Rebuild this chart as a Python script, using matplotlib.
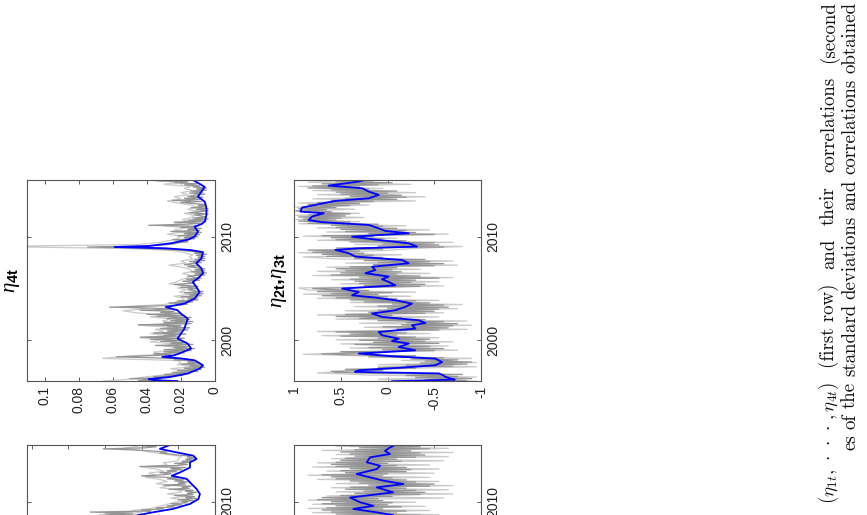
import numpy as np
import matplotlib
matplotlib.use("Agg")
import matplotlib.pyplot as plt

plt.rcParams['font.family'] = ['Liberation Sans', 'DejaVu Sans']
plt.rcParams['axes.unicode_minus'] = False
plt.rcParams['mathtext.fontset'] = 'custom'
plt.rcParams['mathtext.it'] = 'Liberation Serif:italic'
plt.rcParams['mathtext.bf'] = 'Liberation Sans:bold'
plt.rcParams['mathtext.rm'] = 'Liberation Sans'

# ---- data (page is rotated: time runs upward, values run leftward) ----
years = [2000, 2010]
year_labels = ['2000', '2010']

sd_ticks = [0, 0.02, 0.04, 0.06, 0.08, 0.1]
sd_labels = ['0', '0.02', '0.04', '0.06', '0.08', '0.1']
corr_ticks = [-1, -0.5, 0, 0.5, 1]
corr_labels = ['-1', '-0.5', '0', '0.5', '1']

# eta_4t standard deviation
a_blue_t = [1996.06, 1996.15, 1996.25, 1996.47, 1996.79, 1997.27, 1997.59, 1998.07, 1998.25, 1998.4,
            1998.55, 1998.72, 1999.2, 1999.68, 2000.16, 2000.64, 2001.12, 2001.6, 2002.09, 2002.57,
            2002.9, 2003.2, 2003.35, 2003.54, 2004.02, 2004.66, 2005.15, 2005.63, 2005.98, 2006.47,
            2006.95, 2007.43, 2007.9, 2008.5, 2008.7, 2008.88, 2009.0, 2009.1, 2009.36, 2009.7,
            2010.0, 2010.49, 2010.97, 2011.2, 2011.45, 2012.09, 2012.74, 2013.38, 2013.86, 2014.35,
            2014.8, 2015.1, 2015.47]
a_blue = [0.022, 0.036, 0.039, 0.026, 0.016, 0.009, 0.007, 0.012, 0.020, 0.031,
          0.024, 0.021, 0.014, 0.016, 0.022, 0.020, 0.018, 0.017, 0.016, 0.020,
          0.022, 0.029, 0.024, 0.018, 0.012, 0.009, 0.011, 0.013, 0.010, 0.007,
          0.008, 0.011, 0.008, 0.007, 0.014, 0.029, 0.059, 0.039, 0.026, 0.016,
          0.012, 0.010, 0.012, 0.008, 0.006, 0.005, 0.005, 0.006, 0.010, 0.008,
          0.006, 0.009, 0.013]
a_dark = [0.028, 0.045, 0.032, 0.050, 0.026, 0.036, 0.019, 0.030, 0.015, 0.025,
          0.010, 0.022, 0.008, 0.018, 0.006, 0.015, 0.007, 0.020, 0.009, 0.016,
          0.012, 0.024, 0.018, 0.035, 0.058, 0.040, 0.026, 0.036, 0.018, 0.030,
          0.014, 0.030, 0.012, 0.024, 0.016, 0.035, 0.013, 0.026, 0.018, 0.032,
          0.020, 0.038, 0.018, 0.044, 0.022, 0.030, 0.017, 0.036, 0.020, 0.028,
          0.016, 0.032, 0.015, 0.028, 0.020, 0.045, 0.014, 0.030, 0.013, 0.026,
          0.015, 0.028, 0.014, 0.034, 0.018, 0.040, 0.020, 0.032, 0.024, 0.044,
          0.026, 0.036, 0.062, 0.038, 0.020, 0.016, 0.027, 0.013, 0.022, 0.010,
          0.016, 0.010, 0.020, 0.008, 0.015, 0.007, 0.018, 0.007, 0.013, 0.016,
          0.010, 0.020, 0.010, 0.018, 0.024, 0.012, 0.014, 0.019, 0.009, 0.017,
          0.008, 0.013, 0.016, 0.006, 0.012, 0.005, 0.014, 0.006, 0.012, 0.006,
          0.011, 0.016, 0.009, 0.018, 0.014, 0.008, 0.015, 0.006, 0.012, 0.006,
          0.010, 0.006, 0.011, 0.005, 0.012, 0.007, 0.016, 0.020, 0.034, 0.045,
          0.075, 0.040, 0.030, 0.024, 0.022, 0.016, 0.017, 0.025, 0.012, 0.018,
          0.010, 0.022, 0.009, 0.018, 0.008, 0.026, 0.009, 0.016, 0.008, 0.020,
          0.010, 0.039, 0.016, 0.008, 0.024, 0.005, 0.016, 0.004, 0.013, 0.005,
          0.008, 0.012, 0.004, 0.015, 0.009, 0.004, 0.011, 0.004, 0.014, 0.005,
          0.010, 0.005, 0.013, 0.020, 0.008, 0.025, 0.009, 0.018, 0.007, 0.016,
          0.012, 0.006, 0.015, 0.007, 0.014, 0.005, 0.011, 0.005, 0.013, 0.009,
          0.018, 0.010, 0.024, 0.016, 0.035, 0.020]
a_light = [0.066, 0.050, 0.042, 0.030, 0.024,
           0.018, 0.026, 0.013, 0.022, 0.020,
           0.022, 0.066, 0.053, 0.031, 0.036,
           0.026, 0.020, 0.030, 0.024, 0.038,
           0.032, 0.044, 0.028, 0.038, 0.030,
           0.035, 0.026, 0.045, 0.022, 0.031,
           0.026, 0.038, 0.030, 0.046, 0.054,
           0.040, 0.054, 0.030, 0.024, 0.020,
           0.018, 0.024, 0.014, 0.021, 0.017,
           0.022, 0.018, 0.027, 0.022, 0.020,
           0.016, 0.014, 0.019, 0.013, 0.015,
           0.019, 0.027, 0.017, 0.020, 0.013,
           0.015, 0.013, 0.018, 0.024, 0.050,
           0.130, 0.045, 0.032, 0.026, 0.022,
           0.020, 0.028, 0.018, 0.024, 0.017,
           0.030, 0.022, 0.016, 0.019, 0.014,
           0.012, 0.018, 0.010, 0.016, 0.011,
           0.014, 0.022, 0.028, 0.020, 0.024,
           0.016, 0.020, 0.013, 0.018, 0.014,
           0.030, 0.022, 0.036]

# eta_2t, eta_3t correlation
b_blue_t = [1996.05, 1996.1, 1996.2, 1996.3, 1996.46, 1996.6, 1996.8, 1996.95, 1997.1, 1997.36,
            1997.59, 1997.9, 1998.23, 1998.46, 1998.72, 1999.03, 1999.35, 1999.68, 1999.93, 2000.16,
            2000.48, 2000.8, 2001.13, 2001.45, 2001.67, 2001.93, 2002.25, 2002.58, 2002.9, 2003.22,
            2003.54, 2003.86, 2004.12, 2004.34, 2004.66, 2004.99, 2005.3, 2005.63, 2005.89, 2006.15,
            2006.47, 2006.78, 2007.1, 2007.43, 2007.75, 2008.08, 2008.4, 2008.72, 2008.88, 2009.04,
            2009.36, 2009.68, 2010.0, 2010.33, 2010.55, 2010.8, 2011.13, 2011.4, 2011.6, 2011.94,
            2012.26, 2012.42, 2012.8, 2013.2, 2013.45, 2013.7, 2014.03, 2014.35, 2014.67, 2014.93,
            2015.32, 2015.47]
b_blue = [-0.05, -0.30, -0.72, -0.68, -0.62, -0.60, -0.55, 0.35, 0.31, -0.155,
          -0.512, -0.583, -0.512, -0.048, 0.308, -0.298, -0.12, -0.227, -0.048, -0.12,
          0.058, 0.094, -0.298, -0.262, -0.405, -0.334, 0.058, 0.165, -0.084, -0.19,
          -0.262, -0.084, 0.13, 0.379, 0.308, 0.486, -0.084, -0.013, 0.058, -0.013,
          0.237, 0.13, 0.165, -0.227, -0.155, 0.344, 0.415, 0.557, 0.308, -0.316,
          -0.227, 0.094, 0.379, -0.227, 0.023, 0.094, 0.20, 0.70, 0.843, 0.807,
          0.68, 0.932, 0.914, 0.70, 0.557, 0.20, 0.094, 0.20, 0.27, 0.63,
          0.308, 0.25]
b_dark = [0.30, -0.85, -0.40, -0.90, -0.30, -0.75, -0.20, -0.80, 0.10, 0.55,
          0.60, 0.05, 0.45, -0.30, 0.10, -0.70, -0.20, -0.85, -0.35, -0.90,
          -0.40, -0.75, -0.25, -0.60, 0.20, -0.30, 0.45, 0.70, 0.10, 0.50,
          -0.50, 0.05, -0.60, 0.20, -0.45, -0.10, 0.35, -0.55, 0.15, -0.40,
          0.30, -0.45, 0.10, -0.30, 0.50, -0.10, 0.40, -0.20, 0.55, 0.00,
          -0.55, -0.10, -0.65, 0.05, -0.70, -0.15, -0.75, -0.20, -0.60, 0.10,
          -0.40, 0.30, -0.15, 0.55, -0.05, 0.45, -0.40, 0.20, -0.50, 0.10,
          -0.55, 0.00, -0.65, 0.10, -0.60, -0.05, -0.45, 0.25, -0.30, 0.40,
          -0.10, 0.55, 0.00, 0.70, 0.10, 0.60, -0.05, 0.75, 0.20, 0.65,
          0.80, 0.20, -0.35, 0.25, -0.40, 0.30, -0.25, 0.35, -0.30, 0.40,
          -0.55, 0.30, -0.35, 0.60, -0.10, 0.50, -0.15, 0.45, -0.05, 0.55,
          -0.10, 0.40, -0.50, 0.15, -0.60, 0.10, -0.45, 0.25, -0.40, 0.35,
          0.05, 0.65, 0.15, 0.70, 0.25, 0.80, 0.30, 0.85, 0.05, 0.55,
          -0.60, 0.10, -0.55, 0.05, -0.50, 0.40, -0.20, 0.55, 0.05, 0.60,
          0.15, 0.70, -0.50, 0.20, -0.30, 0.45, -0.20, 0.50, -0.10, 0.55,
          0.05, 0.60, 0.10, 0.85, 0.40, 0.95, 0.55, 0.90, 0.50, 0.95,
          0.45, 0.85, 0.40, 0.75, 0.60, 0.98, 0.65, 0.95, 0.55, 0.90,
          0.40, 0.85, 0.30, 0.75, 0.15, 0.60, -0.10, 0.45, -0.20, 0.40,
          -0.15, 0.50, 0.00, 0.55, -0.10, 0.60, 0.20, 0.85, 0.30, 0.80,
          0.10, 0.70, -0.05, 0.55, 0.15, 0.50]
b_light = [-0.95, 0.10, -0.95, 0.20, 0.75,
           0.40, -0.05, -0.95, 0.10, -0.95,
           -0.15, -0.90, 0.10, 0.90, 0.20,
           -0.75, 0.40, -0.65, 0.50, -0.70,
           0.55, -0.55, 0.70, -0.45, 0.75,
           -0.85, 0.25, -0.90, 0.30, -0.85,
           0.55, -0.55, 0.75, -0.60, 0.45,
           -0.75, 0.35, -0.80, 0.40, -0.55,
           0.75, -0.25, 0.90, -0.30, 0.85,
           0.95, -0.60, 0.50, -0.55, 0.60,
           -0.70, 0.80, -0.45, 0.75, -0.35,
           0.65, -0.75, 0.45, -0.70, 0.55,
           0.90, -0.15, 0.95, 0.05, -0.25,
           -0.80, 0.35, -0.70, 0.75, -0.10,
           0.90, -0.65, 0.65, -0.45, 0.75,
           -0.20, 0.95, 0.30, 0.98, 0.25,
           0.98, 0.30, 0.98, 0.35, 0.98,
           0.20, 0.95, -0.30, 0.80, -0.40,
           0.75, -0.30, 0.80, 0.05, 0.95,
           -0.25, 0.85, 0.35]

# second-row panels (only their top part is on the page)
c_blue_t = [2008.4, 2008.7, 2008.97, 2009.3, 2009.78, 2010.26, 2010.74, 2011.23, 2011.7, 2012.2,
            2012.5, 2012.83, 2013.3, 2013.8, 2014.12, 2014.44, 2014.76, 2015.1, 2015.47]
c_blue = [0.045, 0.042, 0.034, 0.023, 0.0136, 0.009, 0.0082, 0.010, 0.0127, 0.0154,
          0.0236, 0.019, 0.0136, 0.0136, 0.010, 0.0118, 0.0209, 0.030, 0.0245]
c_dark = [0.030, 0.055, 0.040, 0.060, 0.045,
          0.068, 0.035, 0.040, 0.028, 0.032, 0.022, 0.026, 0.018, 0.024, 0.015,
          0.018, 0.012, 0.020, 0.010, 0.016, 0.011, 0.022, 0.012, 0.015, 0.010,
          0.016, 0.012, 0.025, 0.014, 0.018, 0.013, 0.028, 0.016, 0.020, 0.015,
          0.022, 0.017, 0.026, 0.020, 0.034, 0.040, 0.028, 0.024, 0.030, 0.021,
          0.026, 0.018, 0.024, 0.016, 0.041, 0.020, 0.015, 0.022, 0.014, 0.018,
          0.012, 0.016, 0.011, 0.015, 0.013, 0.020, 0.024, 0.030, 0.026, 0.035,
          0.045, 0.061, 0.038, 0.032, 0.040, 0.030]
c_light = [0.050, 0.063, 0.040,
           0.045, 0.035, 0.030, 0.026, 0.022,
           0.017, 0.024, 0.015, 0.026, 0.018,
           0.020, 0.030, 0.024, 0.032, 0.026,
           0.030, 0.038, 0.032, 0.036, 0.028,
           0.032, 0.040, 0.026, 0.028, 0.020,
           0.020, 0.018, 0.026, 0.034, 0.040,
           0.050, 0.042]

d_blue_t = [2008.4, 2008.7, 2008.97, 2009.3, 2009.6, 2009.93, 2010.4, 2010.9, 2011.38, 2011.7,
            2012.03, 2012.35, 2012.67, 2013.15, 2013.47, 2013.8, 2014.28, 2014.6, 2014.9, 2015.2,
            2015.47]
d_blue = [-0.10, -0.06, 0.115, 0.366, 0.15, 0.29, 0.40, -0.06, 0.115, -0.17,
          0.045, 0.187, 0.33, 0.115, 0.08, 0.222, 0.187, -0.027, 0.027, -0.02,
          -0.08]
d_dark = [-0.50, 0.30, -0.35, 0.55, -0.10,
          0.60, -0.20, 0.70, 0.05, 0.65, -0.15, 0.55, 0.00, 0.70, -0.05,
          0.60, 0.05, 0.75, 0.10, 0.70, -0.05, 0.50, -0.35, 0.35, -0.40,
          0.25, -0.30, 0.45, -0.20, 0.40, -0.45, 0.20, -0.50, 0.30, -0.30,
          0.40, -0.20, 0.55, -0.05, 0.60, 0.05, 0.70, 0.00, 0.45, -0.20,
          0.50, -0.25, 0.40, -0.20, 0.55, -0.10, 0.60, 0.00, 0.55, -0.15,
          0.50, -0.10, 0.45, -0.30, 0.35, -0.40, 0.40, -0.35, 0.50, -0.25,
          0.35, -0.45, 0.30, -0.35, 0.40, -0.30]
d_light = [0.75, -0.55, 0.80,
           -0.45, 0.85, -0.40, 0.80, -0.30,
           0.85, -0.60, 0.65, -0.70, 0.55,
           -0.65, 0.60, -0.70, 0.55, -0.55,
           0.75, -0.45, 0.85, -0.50, 0.65,
           -0.55, 0.80, -0.45, 0.75, -0.60,
           0.60, -0.65, 0.55, -0.70, 0.70,
           -0.65, 0.55]

caption1_words = [r'$(\eta_{1t},\,\cdot\,\cdot\,\cdot\,,\eta_{4t})$', '(first row)', 'and', 'their',
                  'correlations', '(second']
caption2_words = ['es', 'of', 'the', 'standard', 'deviations', 'and', 'correlations', 'obtained']

BLUE = '#0000ff'
DARK = '#959595'
LIGHT = '#cacaca'
TLIM = (1996.07, 2015.47)
W, H = 867, 515


def panel(rect, blue_t, blue, dark, dark_t0, light, light_t0, xlim, xticks, xlabels,
          title=None, show_values=True):
    ax = fig.add_axes(rect)
    t_dark = dark_t0 + 0.1 * np.arange(len(dark))
    t_light = light_t0 + 0.2 * np.arange(len(light))
    ax.plot(light, t_light, color=LIGHT, lw=0.9)
    ax.plot(dark, t_dark, color=DARK, lw=0.9)
    ax.plot(blue, blue_t, color=BLUE, lw=1.3)
    ax.set_xlim(*xlim)
    ax.set_ylim(*TLIM)
    ax.set_xticks(xticks)
    ax.set_xticklabels(xlabels, rotation=90)
    ax.set_yticks(years)
    ax.set_yticklabels(year_labels, rotation=90, va='center')
    ax.tick_params(direction='in', length=3, width=0.6, colors='#444444', labelcolor='#222222',
                   labelsize=10, top=True, bottom=True, left=True, right=True,
                   labelleft=False, labelright=True, labelbottom=show_values)
    ax.tick_params(axis='y', pad=4)
    for s in ax.spines.values():
        s.set_color('#555555')
        s.set_linewidth(0.8)
    if title:
        ax.text(-0.025, 0.5, title, rotation=90, ha='right', va='center',
                fontsize=15, transform=ax.transAxes)
    return ax


def spread_words(words, x_px, start, end, renderer):
    # justified line of the rotated page: words spread between start and end (pixels from top)
    pieces = [fig.text(x_px / W, 0.5, w, **cap) for w in words]
    lengths = [p.get_window_extent(renderer).height for p in pieces]
    gap = max((start - end - sum(lengths)) / (len(pieces) - 1), 3.0)
    y = start
    for p, L in zip(pieces, lengths):
        p.set_y(1 - y / H)
        y -= L + gap


fig = plt.figure(figsize=(W / 100, H / 100), dpi=100)

panel([0.0311, 0.2602, 0.2168, 0.3903], a_blue_t, a_blue, a_dark, 1996.0, a_light, 1996.05,
      (0.1106, 0), sd_ticks, sd_labels, r'$\eta_{\mathbf{4t}}$')
panel([0.3391, 0.2602, 0.2157, 0.3903], b_blue_t, b_blue, b_dark, 1996.0, b_light, 1996.05,
      (1, -1), corr_ticks, corr_labels, r'$\eta_{\mathbf{2t}}\mathbf{,}\eta_{\mathbf{3t}}$')
panel([0.0311, -0.2544, 0.2168, 0.3903], c_blue_t, c_blue, c_dark, 2008.5, c_light, 2008.55,
      (0.1025, 0), sd_ticks, sd_labels, show_values=False)
panel([0.3391, -0.2544, 0.2157, 0.3903], d_blue_t, d_blue, d_dark, 2008.5, d_light, 2008.55,
      (1, -1), corr_ticks, corr_labels, show_values=False)

# caption of the rotated page
cap = dict(rotation=90, rotation_mode='anchor', ha='left', va='baseline', fontsize=13.6,
           family='cmr10', math_fontfamily='cm', color='#111111')
fig.canvas.draw()
renderer = fig.canvas.get_renderer()
spread_words(caption1_words, 834, 504.0, 1.0, renderer)
spread_words(caption2_words, 855, 450.0, 2.0, renderer)

fig.savefig('out.png', dpi=100)
